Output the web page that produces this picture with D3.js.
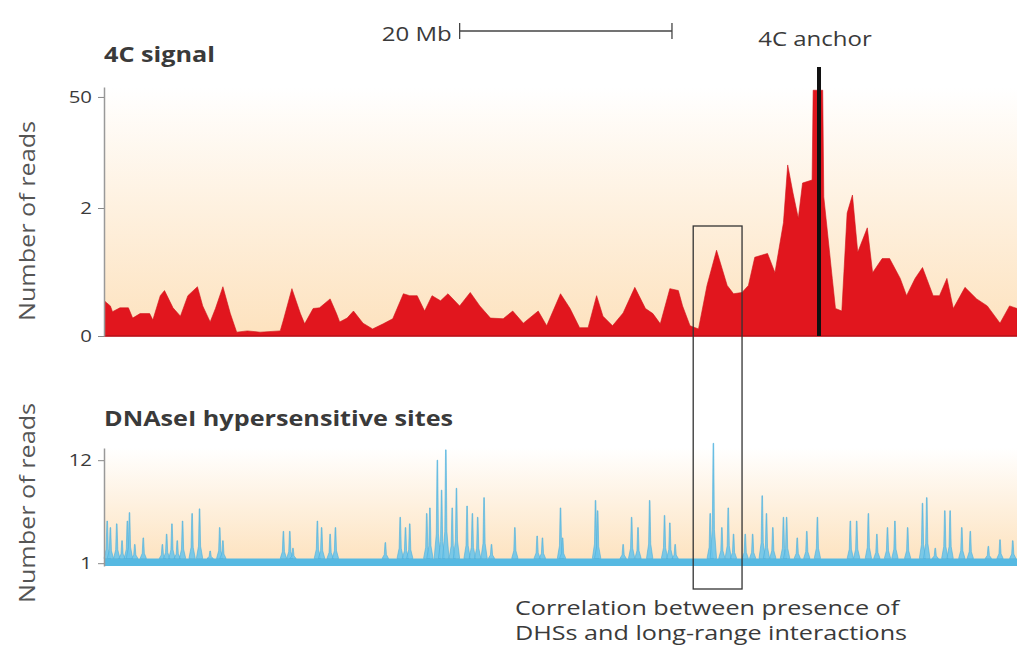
<!DOCTYPE html>
<html>
<head>
<meta charset="utf-8">
<script src="https://cdn.jsdelivr.net/npm/d3@7"></script>
<style>
body { margin: 0; background: #fff; }
text { font-family: "Open Sans", sans-serif; fill: #3a3a3a; }
</style>
</head>
<body>
<div id="chart"></div>
<script>
// 4C signal profile, position in Mb / number of reads
var fourCPos = [0.1, 0.6, 0.8, 1.5, 2.3, 2.7, 3.4, 4.3, 4.6, 5.3, 5.7, 6.5, 7.2, 7.9, 8.8, 9.3, 10.0, 10.5, 11.2, 11.9,
    12.5, 13.5, 14.7, 16.6, 16.9, 17.7, 18.5, 18.9, 19.7, 20.3, 21.3, 21.9, 22.2, 22.9, 23.5, 24.4, 25.3, 26.3, 27.2, 28.2,
    28.8, 29.5, 30.2, 30.9, 31.7, 32.4, 33.5, 34.5, 35.4, 36.4, 37.6, 38.5, 39.5, 40.9, 41.7, 43.0, 43.9, 44.8, 45.6, 46.4,
    47.0, 47.9, 48.9, 50.0, 51.0, 51.7, 52.4, 53.3, 54.1, 54.5, 55.2, 56.0, 56.8, 57.7, 58.7, 59.3, 60.1, 60.7, 61.3, 62.5,
    63.2, 64.0, 64.4, 64.9, 65.4, 65.8, 66.7, 66.8, 67.7, 67.8, 68.6, 68.9, 69.5, 70.0, 70.5, 71.0, 71.9, 72.4, 73.3, 74.0,
    75.0, 75.6, 76.4, 77.1, 78.1, 78.7, 79.4, 80.0, 81.1, 82.2, 83.2, 84.4, 85.3, 86.0];
var fourCReads = [0.54, 0.47, 0.38, 0.44, 0.44, 0.28, 0.35, 0.35, 0.25, 0.63, 0.71, 0.44, 0.31, 0.63, 0.77, 0.47, 0.22, 0.43, 0.77, 0.35,
    0.06, 0.08, 0.06, 0.08, 0.25, 0.74, 0.35, 0.19, 0.43, 0.44, 0.58, 0.35, 0.22, 0.28, 0.39, 0.2, 0.11, 0.19, 0.27, 0.66,
    0.63, 0.63, 0.39, 0.63, 0.55, 0.66, 0.47, 0.68, 0.47, 0.28, 0.27, 0.39, 0.2, 0.39, 0.16, 0.66, 0.43, 0.13, 0.13, 0.63,
    0.31, 0.16, 0.36, 0.76, 0.43, 0.35, 0.19, 0.74, 0.71, 0.47, 0.16, 0.11, 0.79, 1.34, 0.79, 0.66, 0.68, 0.79, 1.23, 1.29,
    0.99, 1.77, 20.6, 8.5, 1.84, 12.8, 14.1, 52.9, 52.9, 6.8, 0.9, 0.43, 0.39, 1.92, 7.6, 1.31, 1.69, 0.99, 1.21, 1.21,
    0.9, 0.63, 0.9, 1.07, 0.63, 0.63, 0.9, 0.43, 0.76, 0.58, 0.47, 0.2, 0.47, 0.43];
var fourCTicks = [0, 2, 50];

// DNaseI hypersensitive sites: peak position in Mb / number of reads
var dhsPos = [0.3, 0.6, 1.2, 1.7, 2.2, 2.4, 2.9, 3.7, 5.5, 5.9, 6.4, 6.9, 7.4, 8.3, 9.0, 10.0, 10.9, 11.2, 16.9, 17.5,
    17.8, 20.1, 20.5, 21.3, 21.8, 26.5, 27.9, 28.4, 28.8, 30.4, 30.7, 31.4, 31.8, 32.2, 32.8, 33.2, 34.2, 34.7, 35.2, 35.8,
    36.5, 38.7, 40.8, 41.3, 43.0, 43.2, 46.3, 46.5, 48.9, 49.7, 50.3, 51.4, 52.8, 53.3, 53.8, 57.1, 57.4, 58.2, 58.8, 59.3,
    60.4, 61.1, 62.0, 62.4, 63.0, 64.0, 64.3, 65.3, 66.2, 67.2, 70.3, 70.9, 72.0, 72.8, 73.8, 74.5, 75.7, 77.1, 77.5, 78.3,
    79.2, 79.7, 80.8, 81.6, 83.3, 84.4, 85.6];
var dhsReads = [5.5, 4.8, 5.2, 3.4, 5.5, 6.4, 3.0, 3.7, 3.0, 4.1, 5.2, 3.4, 5.5, 6.3, 6.8, 2.3, 4.8, 3.4, 4.4, 4.4,
    2.6, 5.5, 4.8, 4.1, 4.8, 3.2, 5.9, 4.8, 5.2, 6.3, 6.9, 12.0, 8.8, 13.1, 6.9, 9.0, 7.1, 6.3, 5.9, 8.0,
    3.0, 4.8, 3.9, 3.7, 6.9, 3.7, 7.7, 6.6, 3.0, 5.9, 4.8, 7.7, 6.1, 5.3, 3.0, 6.3, 13.8, 4.8, 6.9, 4.1,
    4.1, 4.1, 8.2, 6.3, 4.8, 5.9, 5.9, 3.7, 4.4, 5.9, 5.5, 5.5, 6.3, 4.1, 4.8, 5.5, 4.8, 7.4, 8.0, 2.6,
    6.6, 6.6, 4.8, 4.4, 2.8, 3.5, 3.4];
var dhsBaseline = 1.5;
var dhsTicks = [1, 12];

var regionMb = [0, 86];
var anchorPos = 67.35;
var scaleBarMb = [33.5, 53.5];
var boxRegion = [55.5, 60.1];

var width = 1017, height = 653;
var stretch = 1.2; // the lettering in the figure is drawn wide

var svg = d3.select("#chart").append("svg")
    .attr("width", width)
    .attr("height", height);

var x = d3.scaleLinear().domain(regionMb).range([104, 1017]);

// 4C axis is stretched below 2 reads
var yTop = d3.scaleLinear().domain([0, 2, 54.3]).range([336, 208, 87]).clamp(true);
var yBot = d3.scaleLinear().domain([0.7, 13.3]).range([566, 448]);

var defs = svg.append("defs");
var grad = defs.append("linearGradient")
    .attr("id", "peach")
    .attr("x1", 0).attr("y1", 0).attr("x2", 0).attr("y2", 1);
grad.append("stop").attr("offset", "0%").attr("stop-color", "#ffffff");
grad.append("stop").attr("offset", "100%").attr("stop-color", "#fde2be");

function label(px, py, str, size, opts) {
    opts = opts || {};
    var sx = opts.sx || stretch;
    var t = svg.append("text")
        .attr("transform", "translate(" + px + "," + py + ")" + (opts.rotate ? " rotate(" + opts.rotate + ")" : "") + " scale(" + sx + ",1)")
        .attr("text-anchor", opts.anchor || "start")
        .style("font-size", size + "px")
        .text(str);
    if (opts.bold) t.style("font-weight", 700);
    if (opts.fill) t.style("fill", opts.fill);
    return t;
}

// backgrounds
svg.append("rect")
    .attr("x", x(regionMb[0])).attr("y", yTop.range()[2])
    .attr("width", x(regionMb[1]) - x(regionMb[0]))
    .attr("height", yTop(0) - yTop.range()[2])
    .attr("fill", "url(#peach)");

svg.append("rect")
    .attr("x", x(regionMb[0])).attr("y", yBot.range()[1])
    .attr("width", x(regionMb[1]) - x(regionMb[0]))
    .attr("height", yBot(dhsTicks[0]) - yBot.range()[1])
    .attr("fill", "url(#peach)");

// 4C signal area
var fourC = fourCPos.map(function(p, i) { return { pos: p, reads: fourCReads[i] }; });

var area = d3.area()
    .x(function(d) { return x(d.pos); })
    .y0(yTop(0))
    .y1(function(d) { return yTop(d.reads); });

svg.append("path")
    .datum(fourC)
    .attr("d", area)
    .attr("fill", "#e1161e")
    .attr("stroke", "#d0121a")
    .attr("stroke-width", 0.6);

svg.append("line")
    .attr("x1", x(regionMb[0])).attr("x2", x(regionMb[1]))
    .attr("y1", yTop(0)).attr("y2", yTop(0))
    .attr("stroke", "#b8121a").attr("stroke-width", 1.5);

// anchor
svg.append("line")
    .attr("x1", x(anchorPos)).attr("x2", x(anchorPos))
    .attr("y1", 67).attr("y2", yTop(0))
    .attr("stroke", "#111").attr("stroke-width", 4);

// DHS track: baseline band + spikes
svg.append("rect")
    .attr("x", x(regionMb[0])).attr("y", yBot(dhsBaseline))
    .attr("width", x(regionMb[1]) - x(regionMb[0]))
    .attr("height", yBot(yBot.domain()[0]) - yBot(dhsBaseline))
    .attr("fill", "#56b9e2");

var spikeArea = d3.area()
    .x(function(d) { return x(d[0]); })
    .y0(yBot(dhsBaseline))
    .y1(function(d) { return yBot(d[1]); });

dhsPos.forEach(function(p, i) {
    var v = dhsReads[i];
    var sh = dhsBaseline + (v - dhsBaseline) * 0.25;
    var pts = [[p - 0.3, dhsBaseline], [p - 0.1, sh], [p - 0.03, v], [p + 0.03, v], [p + 0.1, sh], [p + 0.3, dhsBaseline]];
    svg.append("path")
        .datum(pts)
        .attr("d", spikeArea)
        .attr("fill", "#6cc4ea")
        .attr("fill-opacity", 0.9)
        .attr("stroke", "#4aaedb")
        .attr("stroke-width", 0.6);
});

// axes
var yAxisTop = d3.axisLeft(yTop).tickValues(fourCTicks).tickSize(6).tickSizeOuter(0).tickPadding(4);
var yAxisBot = d3.axisLeft(yBot).tickValues(dhsTicks).tickSize(6).tickSizeOuter(0).tickPadding(4);

[yAxisTop, yAxisBot].forEach(function(ax) {
    var g = svg.append("g")
        .attr("class", "axis")
        .attr("transform", "translate(" + x(regionMb[0]) + ",0)")
        .call(ax);
    g.select(".domain").attr("stroke", "#999").attr("stroke-width", 1.5);
    g.selectAll(".tick line").attr("stroke", "#888");
    g.selectAll(".tick text")
        .attr("transform", "scale(" + stretch + ",1)")
        .style("font-family", "Open Sans, sans-serif")
        .style("font-size", "17px")
        .attr("fill", "#444");
});

// axis titles
label(35, 221, "Number of reads", 21, { rotate: -90, anchor: "middle", fill: "#555" });
label(35, 503, "Number of reads", 21, { rotate: -90, anchor: "middle", fill: "#555" });

// panel titles
label(104, 62, "4C signal", 21, { bold: true });
label(104, 426, "DNAseI hypersensitive sites", 21, { bold: true });

// scale bar
var sb = svg.append("g").attr("stroke", "#444").attr("stroke-width", 1.3);
sb.append("line").attr("x1", x(scaleBarMb[0])).attr("x2", x(scaleBarMb[1])).attr("y1", 31).attr("y2", 31);
sb.append("line").attr("x1", x(scaleBarMb[0])).attr("x2", x(scaleBarMb[0])).attr("y1", 23).attr("y2", 39);
sb.append("line").attr("x1", x(scaleBarMb[1])).attr("x2", x(scaleBarMb[1])).attr("y1", 23).attr("y2", 39);

label(x(scaleBarMb[0]) - 8, 41, "20 Mb", 20, { anchor: "end" });
label(x(anchorPos) - 4, 46, "4C anchor", 20, { anchor: "middle" });

// highlight box
svg.append("rect")
    .attr("x", x(boxRegion[0])).attr("y", 226)
    .attr("width", x(boxRegion[1]) - x(boxRegion[0]))
    .attr("height", 589 - 226)
    .attr("fill", "none")
    .attr("stroke", "#333")
    .attr("stroke-width", 1.3);

label(515, 615, "Correlation between presence of", 19.5, { sx: 1.29 });
label(515, 640, "DHSs and long-range interactions", 19.5, { sx: 1.29 });
</script>
</body>
</html>
